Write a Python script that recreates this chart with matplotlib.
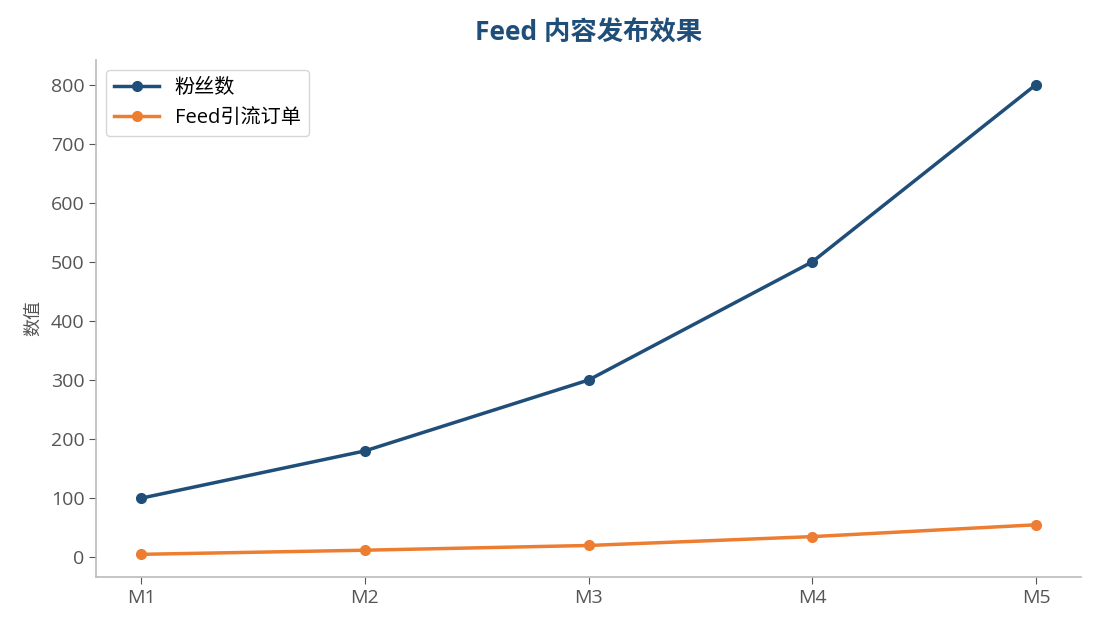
import matplotlib.pyplot as plt

plt.rcParams['font.family'] = ['Open Sans', 'Noto Sans CJK SC', 'DejaVu Sans']

months = ['M1', 'M2', 'M3', 'M4', 'M5']
fans = [100, 180, 300, 500, 800]
feed_orders = [5, 12, 20, 35, 55]

blue = '#1f4e79'
orange = '#ed7d31'

fig, ax = plt.subplots(figsize=(10.95, 6.29), dpi=100)
fig.subplots_adjust(left=0.088, right=0.987, top=0.905, bottom=0.083)

ax.plot(months, fans, color=blue, linewidth=2.5, marker='o', markersize=7, label='粉丝数')
ax.plot(months, feed_orders, color=orange, linewidth=2.5, marker='o', markersize=7, label='Feed引流订单')

ax.set_title('Feed 内容发布效果', fontsize=19, fontweight='bold', color=blue, pad=14)
ax.set_ylabel('数值', fontsize=13, color='#555555', labelpad=6)
ax.set_ylim(-33, 842)
ax.set_xlim(-0.2, 4.2)
ax.set_yticks(range(0, 801, 100))

for side in ['top', 'right']:
    ax.spines[side].set_visible(False)
for side in ['left', 'bottom']:
    ax.spines[side].set_color('#bbbbbb')
    ax.spines[side].set_linewidth(1.2)
ax.tick_params(colors='#555555', labelsize=14, length=5)

ax.legend(loc='upper left', fontsize=14.5, frameon=True, edgecolor='#cccccc',
          handlelength=2.2)

plt.savefig('out.png', dpi=100)
